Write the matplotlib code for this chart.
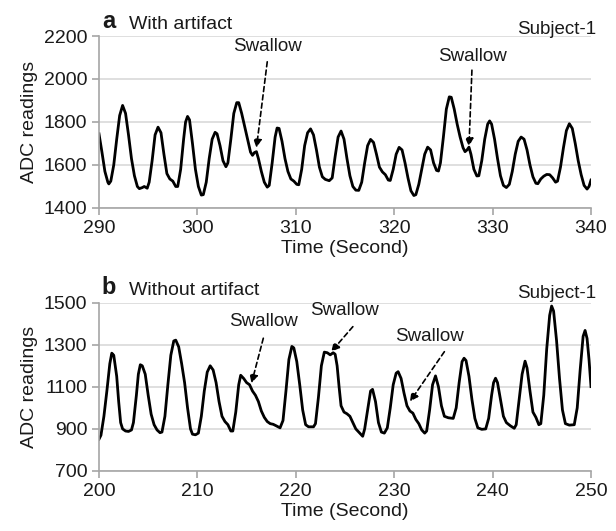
import matplotlib
matplotlib.use("Agg")
import matplotlib.pyplot as plt

plt.rcParams['font.family'] = ['Liberation Sans', 'DejaVu Sans']

# ---- Data ----
t_a = [290.0, 290.3, 290.6, 290.9, 291.0, 291.2, 291.5, 291.8, 292.1, 292.4, 292.7, 293.0,
       293.3, 293.6, 293.9, 294.1, 294.4, 294.6, 294.9, 295.1, 295.4, 295.7, 296.0, 296.3,
       296.6, 296.9, 297.2, 297.5, 297.8, 298.0, 298.3, 298.6, 298.8, 299.0, 299.2, 299.5,
       299.8, 300.1, 300.4, 300.6, 300.9, 301.2, 301.5, 301.8, 302.0, 302.3, 302.6, 302.9,
       303.1, 303.4, 303.7, 304.0, 304.2, 304.5, 304.8, 305.1, 305.4, 305.6, 305.8, 306.0,
       306.2, 306.5, 306.8, 307.1, 307.3, 307.6, 307.9, 308.1, 308.3, 308.6, 308.9, 309.2,
       309.5, 309.8, 310.1, 310.3, 310.6, 310.9, 311.2, 311.5, 311.8, 312.1, 312.4, 312.7,
       313.0, 313.4, 313.7, 314.0, 314.3, 314.6, 314.9, 315.2, 315.5, 315.8, 316.1, 316.4,
       316.7, 317.0, 317.3, 317.6, 317.9, 318.2, 318.5, 318.8, 319.1, 319.4, 319.6, 319.9,
       320.2, 320.5, 320.8, 321.1, 321.4, 321.7, 322.0, 322.2, 322.5, 322.8, 323.1, 323.4,
       323.7, 324.0, 324.3, 324.5, 324.7, 325.0, 325.3, 325.6, 325.8, 326.1, 326.4, 326.7,
       327.0, 327.2, 327.4, 327.6, 327.8, 328.1, 328.4, 328.6, 328.9, 329.2, 329.5, 329.7,
       329.9, 330.2, 330.5, 330.8, 331.1, 331.4, 331.7, 332.0, 332.3, 332.6, 332.9, 333.2,
       333.5, 333.8, 334.1, 334.4, 334.6, 334.9, 335.2, 335.5, 335.8, 336.1, 336.4, 336.6,
       336.9, 337.2, 337.5, 337.8, 338.1, 338.4, 338.7, 339.0, 339.3, 339.6, 339.8, 340.0]
v_a = [1745, 1660, 1570, 1520, 1512, 1525, 1600, 1720, 1830, 1877, 1840, 1740,
       1630, 1550, 1500, 1490, 1495, 1500, 1492, 1520, 1620, 1740, 1776, 1750,
       1650, 1560, 1535, 1525, 1500, 1500, 1580, 1720, 1800, 1826, 1810, 1700,
       1580, 1500, 1460, 1462, 1520, 1630, 1720, 1752, 1745, 1690, 1620, 1592,
       1610, 1720, 1840, 1890, 1890, 1840, 1780, 1720, 1660, 1645, 1658, 1662,
       1630, 1570, 1520, 1497, 1505, 1610, 1730, 1772, 1770, 1710, 1630, 1570,
       1535, 1525, 1510, 1508, 1580, 1690, 1750, 1768, 1740, 1670, 1590, 1545,
       1533, 1527, 1540, 1640, 1730, 1758, 1720, 1630, 1550, 1500, 1483, 1482,
       1520, 1610, 1690, 1719, 1705, 1650, 1590, 1568, 1555, 1530, 1528, 1580,
       1650, 1682, 1670, 1610, 1540, 1480, 1458, 1462, 1510, 1580, 1650, 1683,
       1670, 1610, 1575, 1572, 1610, 1730, 1860, 1917, 1915, 1860, 1790, 1730,
       1680, 1662, 1670, 1683, 1650, 1580, 1549, 1550, 1620, 1720, 1790, 1805,
       1790, 1720, 1630, 1550, 1505, 1495, 1510, 1570, 1650, 1710, 1730, 1720,
       1670, 1600, 1545, 1515, 1513, 1535, 1548, 1556, 1555, 1540, 1520, 1525,
       1590, 1680, 1760, 1792, 1770, 1700, 1620, 1555, 1505, 1488, 1500, 1530]

t_b = [200.0, 200.2, 200.5, 200.8, 201.1, 201.3, 201.5, 201.8, 202.0, 202.2, 202.4, 202.7,
       203.0, 203.3, 203.5, 203.8, 204.0, 204.2, 204.4, 204.7, 205.0, 205.3, 205.6, 205.9,
       206.2, 206.4, 206.7, 207.0, 207.3, 207.6, 207.8, 208.1, 208.4, 208.7, 209.0, 209.3,
       209.5, 209.8, 210.1, 210.4, 210.7, 211.0, 211.3, 211.6, 211.9, 212.2, 212.5, 212.8,
       213.1, 213.4, 213.6, 213.9, 214.2, 214.4, 214.7, 215.0, 215.3, 215.6, 215.9, 216.2,
       216.5, 216.8, 217.1, 217.4, 217.7, 218.0, 218.4, 218.7, 219.0, 219.3, 219.6, 219.8,
       220.1, 220.4, 220.7, 221.0, 221.3, 221.8, 222.0, 222.3, 222.6, 222.9, 223.2, 223.5,
       223.8, 224.0, 224.2, 224.4, 224.6, 224.9, 225.2, 225.5, 225.8, 226.1, 226.4, 226.8,
       227.0, 227.3, 227.6, 227.8, 228.1, 228.4, 228.7, 229.0, 229.3, 229.6, 229.9, 230.2,
       230.4, 230.7, 231.0, 231.3, 231.6, 231.9, 232.2, 232.5, 232.8, 233.1, 233.3, 233.6,
       233.9, 234.2, 234.5, 234.8, 235.1, 235.5, 236.0, 236.3, 236.6, 236.9, 237.1, 237.3,
       237.6, 237.9, 238.2, 238.5, 238.9, 239.3, 239.6, 239.9, 240.1, 240.3, 240.5, 240.8,
       241.1, 241.4, 241.8, 242.2, 242.4, 242.7, 243.0, 243.3, 243.5, 243.8, 244.1, 244.4,
       244.7, 244.9, 245.2, 245.5, 245.8, 246.0, 246.2, 246.5, 246.8, 247.1, 247.4, 247.8,
       248.3, 248.6, 248.9, 249.2, 249.4, 249.6, 249.8, 250.0]
v_b = [851, 870, 960, 1080, 1210, 1260, 1250, 1150, 1030, 930, 900, 890,
       888, 895, 930, 1060, 1160, 1205, 1200, 1160, 1060, 970, 920, 895,
       882, 885, 960, 1110, 1250, 1318, 1322, 1290, 1210, 1120, 1000, 900,
       875, 872, 880, 960, 1080, 1170, 1200, 1180, 1120, 1030, 960, 935,
       920, 890, 890, 980, 1110, 1155, 1140, 1120, 1110, 1080, 1060, 1030,
       985, 955, 935, 925, 922, 915, 905, 940, 1080, 1230, 1292, 1285,
       1220, 1110, 990, 920, 910, 910, 925, 1050, 1200, 1265, 1262, 1252,
       1262, 1255, 1200, 1100, 1010, 980, 972, 960, 930, 900, 885, 865,
       900, 990, 1080, 1088, 1030, 930, 885, 880, 905, 1000, 1110, 1165,
       1172, 1140, 1070, 1010, 985, 975, 945, 925, 895, 880, 890, 990,
       1110, 1152, 1100, 1010, 960, 953, 950, 1000, 1120, 1220, 1236, 1225,
       1150, 1040, 950, 905, 898, 900, 950, 1060, 1120, 1141, 1120, 1040,
       960, 930, 915, 903, 920, 1040, 1160, 1222, 1190, 1080, 980, 955,
       920, 925, 1060, 1280, 1440, 1484, 1460, 1320, 1140, 990, 925, 918,
       920, 1000, 1180, 1340, 1368, 1330, 1230, 1101]

xticks_a = [290, 300, 310, 320, 330, 340]
yticks_a = [1400, 1600, 1800, 2000, 2200]
xticks_b = [200, 210, 220, 230, 240, 250]
yticks_b = [700, 900, 1100, 1300, 1500]

# swallow labels (text x, text y) and arrows (tail x, tail y, head x, head y)
swallow_text_a = [(307.1, 2150), (328.0, 2103)]
swallow_arrow_a = [(307.1, 2080, 306.0, 1680), (327.9, 2041, 327.6, 1686)]
swallow_text_b = [(216.7, 1410), (224.9, 1462), (233.6, 1338)]
swallow_arrow_b = [(216.7, 1331, 215.5, 1117), (225.8, 1386, 223.6, 1267),
                   (235.1, 1267, 231.6, 1030)]

TXT = '#1a1a1a'
GRID = '#d9d9d9'
SPINE = '#a6a6a6'

fig = plt.figure(figsize=(6.16, 5.31), dpi=100)
ax1 = fig.add_axes([0.1607, 0.6083, 0.7987, 0.3239])
ax2 = fig.add_axes([0.1607, 0.1130, 0.7987, 0.3170])


def style(ax, xt, yt):
    ax.set_xlim(xt[0], xt[-1])
    ax.set_ylim(yt[0], yt[-1])
    ax.set_xticks(xt)
    ax.set_yticks(yt)
    ax.grid(axis='y', color=GRID, lw=1.2)
    ax.set_axisbelow(True)
    for s in ['top', 'right']:
        ax.spines[s].set_visible(False)
    for s in ['left', 'bottom']:
        ax.spines[s].set_color(SPINE)
        ax.spines[s].set_linewidth(1.2)
    ax.tick_params(axis='both', colors=SPINE, labelcolor=TXT, labelsize=14,
                   length=5, width=1.2, direction='out')
    ax.set_ylabel('ADC readings', fontsize=14, color=TXT, labelpad=4)
    ax.set_xlabel('Time (Second)', fontsize=14, color=TXT, labelpad=2)


style(ax1, xticks_a, yticks_a)
style(ax2, xticks_b, yticks_b)

ax1.plot(t_a, v_a, color='black', lw=2.0, solid_joinstyle='round')
ax2.plot(t_b, v_b, color='black', lw=2.0, solid_joinstyle='round')

for ax, texts, arrows in ((ax1, swallow_text_a, swallow_arrow_a),
                          (ax2, swallow_text_b, swallow_arrow_b)):
    for tx, ty in texts:
        ax.text(tx, ty, 'Swallow', fontsize=13.5, color=TXT, ha='center', va='center',
                clip_on=False)
    for x0, y0, x1, y1 in arrows:
        ax.annotate('', xy=(x1, y1), xytext=(x0, y0), annotation_clip=False,
                    arrowprops=dict(arrowstyle='-|>', linestyle=(0, (3, 2)), color='black',
                                    lw=1.2, mutation_scale=12, shrinkA=0, shrinkB=0))

ax1.text(0.006, 1.02, 'a', transform=ax1.transAxes, fontsize=17, fontweight='bold',
         color=TXT, ha='left', va='bottom')
ax1.text(0.062, 1.02, 'With artifact', transform=ax1.transAxes, fontsize=14,
         color=TXT, ha='left', va='bottom')
ax2.text(0.006, 1.02, 'b', transform=ax2.transAxes, fontsize=17, fontweight='bold',
         color=TXT, ha='left', va='bottom')
ax2.text(0.062, 1.02, 'Without artifact', transform=ax2.transAxes, fontsize=14,
         color=TXT, ha='left', va='bottom')

ax1.text(1.01, 1.04, 'Subject-1', transform=ax1.transAxes, fontsize=13.5,
         color=TXT, ha='right', va='center')
ax2.text(1.01, 1.055, 'Subject-1', transform=ax2.transAxes, fontsize=13.5,
         color=TXT, ha='right', va='center')

fig.savefig('out.png', dpi=100)
